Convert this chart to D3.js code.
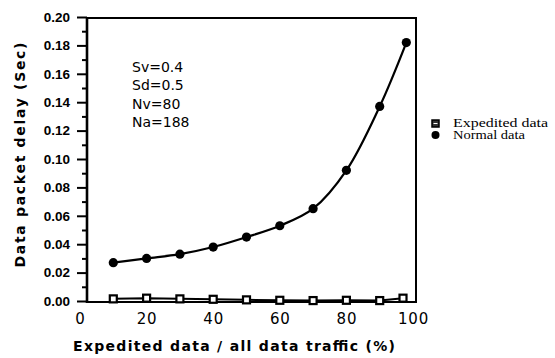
<!DOCTYPE html>
<html><head><meta charset="utf-8">
<script src="https://cdn.jsdelivr.net/npm/d3@7"></script>
<style>body{margin:0;background:#fff}svg{display:block}</style>
</head><body>
<script>
const xNormal = [10,20,30,40,50,60,70,80,90,98];
const normalData = [0.027,0.030,0.033,0.038,0.045,0.053,0.065,0.092,0.137,0.182];
const xExpedited = [10,20,30,40,50,60,70,80,90,97];
const expeditedData = [0.0015,0.002,0.0015,0.0012,0.0008,0.0005,0.0003,0.0005,0.0003,0.002];
const xTicks = [0,20,40,60,80,100];
const yMajor = [0,0.02,0.04,0.06,0.08,0.10,0.12,0.14,0.16,0.18,0.20];
const yMinor = [0.01,0.03,0.05,0.07,0.09,0.11,0.13,0.15,0.17,0.19];
const params = ["Sv=0.4","Sd=0.5","Nv=80","Na=188"];
const legendLabels = ["Expedited data","Normal data"];

const W=555,H=358;
const svg=d3.select("body").append("svg").attr("width",W).attr("height",H);
const x=d3.scaleLinear().domain([0,100]).range([80,413]);
const y=d3.scaleLinear().domain([0,0.2]).range([301,17]);
const L=87,R=416,T=18,B=302;

// frame
svg.append("path").attr("d",`M${L},${T}H${R}V${B}H${L}Z`).attr("fill","none").attr("stroke","#000").attr("stroke-width",2);
svg.append("line").attr("x1",L).attr("x2",L).attr("y1",T-1).attr("y2",B+1).attr("stroke","#000").attr("stroke-width",2.6);

// y ticks
const yAxis=d3.axisLeft(y).tickValues(yMajor).tickSize(10).tickPadding(7).tickFormat(d3.format(".2f"));
const ga=svg.append("g").attr("transform",`translate(${L},0)`).call(yAxis);
ga.select(".domain").remove();
ga.selectAll("line").attr("stroke-width",2);
ga.selectAll("text").attr("font-family","Liberation Sans, Arial, sans-serif").attr("font-weight","bold").attr("font-size",13.5).attr("fill","#000");
const gm=svg.append("g").attr("transform",`translate(${L},0)`).call(d3.axisLeft(y).tickValues(yMinor).tickSize(5).tickFormat(""));
gm.select(".domain").remove();
gm.selectAll("line").attr("stroke-width",2);

// x tick labels
const gx=svg.append("g").attr("transform",`translate(0,${B})`).call(d3.axisBottom(x).tickValues(xTicks).tickSize(0).tickPadding(11));
gx.select(".domain").remove();
gx.selectAll("text").attr("font-family","DejaVu Sans, sans-serif").attr("font-size",15).attr("letter-spacing",0.8).attr("fill","#000");

// axis titles
svg.append("text").attr("x",234).attr("y",351).attr("text-anchor","middle")
  .attr("font-family","DejaVu Sans, sans-serif").attr("font-size",14).attr("font-weight","bold")
  .attr("textLength",322).attr("lengthAdjust","spacing").text("Expedited data / all data traffic (%)");
svg.append("text").attr("transform","translate(25,155) rotate(-90)").attr("text-anchor","middle")
  .attr("font-family","DejaVu Sans, sans-serif").attr("font-size",14).attr("font-weight","bold")
  .attr("textLength",225).attr("lengthAdjust","spacing").text("Data packet delay (Sec)");

// params
svg.append("g").selectAll("text").data(params).join("text")
  .attr("x",132).attr("y",(d,i)=>72+i*18.3)
  .attr("font-family","DejaVu Sans, sans-serif").attr("font-size",14).text(d=>d);

// lines
const normal=xNormal.map((d,i)=>[d,normalData[i]]);
const exped=xExpedited.map((d,i)=>[d,expeditedData[i]]);
const line=d3.line().x(d=>x(d[0])).y(d=>y(d[1])).curve(d3.curveCatmullRom);
svg.append("path").datum(normal).attr("d",line).attr("fill","none").attr("stroke","#000").attr("stroke-width",2.2);
svg.append("path").datum(exped).attr("d",d3.line().x(d=>x(d[0])).y(d=>y(d[1]))).attr("fill","none").attr("stroke","#000").attr("stroke-width",2);
svg.append("g").selectAll("circle").data(normal).join("circle")
  .attr("cx",d=>x(d[0])).attr("cy",d=>y(d[1])).attr("r",4.6).attr("fill","#000");
svg.append("g").selectAll("rect").data(exped).join("rect")
  .attr("x",d=>x(d[0])-3.5).attr("y",d=>y(d[1])-3.5).attr("width",7).attr("height",7)
  .attr("fill","#fff").attr("stroke","#000").attr("stroke-width",2.2);

// legend
svg.append("rect").attr("x",432).attr("y",120).attr("width",7).attr("height",7).attr("fill","#333").attr("stroke","#000").attr("stroke-width",1.5);
svg.append("line").attr("x1",433.5).attr("x2",437.5).attr("y1",123.5).attr("y2",123.5).attr("stroke","#fff").attr("stroke-width",1);
svg.append("circle").attr("cx",435.5).attr("cy",135).attr("r",4).attr("fill","#000");
svg.append("g").selectAll("text").data(legendLabels).join("text")
  .attr("x",453).attr("y",(d,i)=>127+i*12)
  .attr("font-family","Liberation Serif, Times New Roman, serif").attr("font-size",11.5)
  .attr("textLength",(d,i)=>i===0?95:72).attr("lengthAdjust","spacingAndGlyphs").text(d=>d);
</script>
</body></html>
